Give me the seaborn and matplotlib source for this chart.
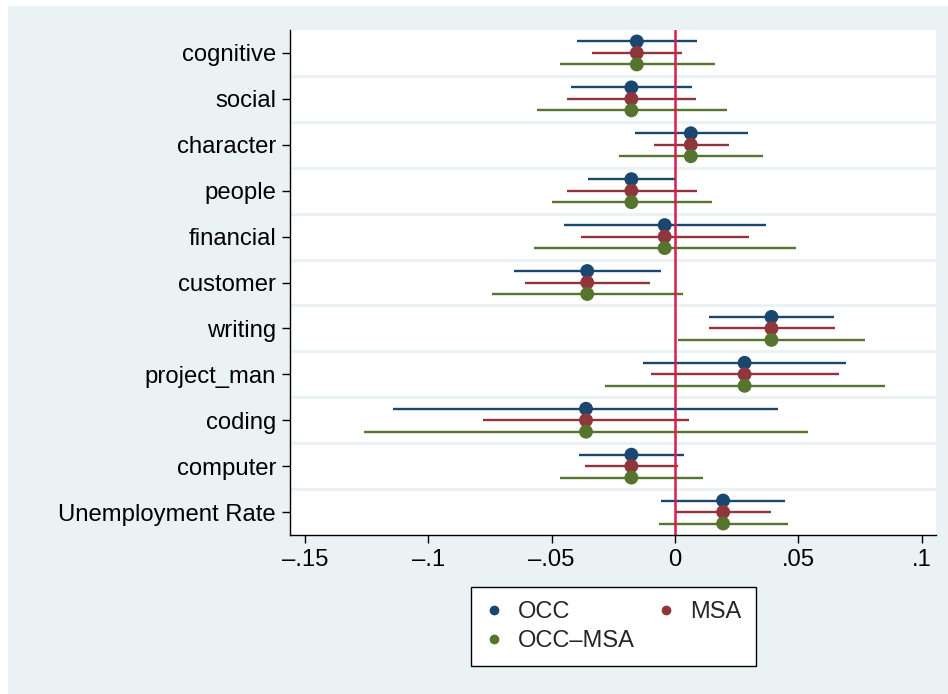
import numpy as np
import pandas as pd
import seaborn as sns
import matplotlib
matplotlib.use("Agg")
import matplotlib.pyplot as plt
from matplotlib.patches import Rectangle
from matplotlib.lines import Line2D

# Coefficients and 95% confidence bounds by skill category
categories = ["cognitive", "social", "character", "people", "financial", "customer",
              "writing", "project_man", "coding", "computer", "Unemployment Rate"]

coef = [-0.0155, -0.0177, 0.0064, -0.0177, -0.0042, -0.0356,
        0.0391, 0.0282, -0.0361, -0.0177, 0.0195]

occ_lo = [-0.0397, -0.0422, -0.0163, -0.0351, -0.0449, -0.0652,
          0.0136, -0.0129, -0.1143, -0.0389, -0.0056]
occ_hi = [0.0088, 0.0069, 0.0294, 0.0001, 0.0367, -0.0058,
          0.0646, 0.0694, 0.0419, 0.0036, 0.0447]

msa_lo = [-0.0337, -0.0436, -0.0087, -0.0439, -0.0380, -0.0607,
          0.0136, -0.0096, -0.0777, -0.0366, 0.0000]
msa_hi = [0.0027, 0.0083, 0.0218, 0.0088, 0.0299, -0.0103,
          0.0647, 0.0663, 0.0057, 0.0013, 0.0391]

occmsa_lo = [-0.0467, -0.0560, -0.0226, -0.0500, -0.0571, -0.0744,
             0.0013, -0.0283, -0.1260, -0.0465, -0.0066]
occmsa_hi = [0.0161, 0.0209, 0.0355, 0.0150, 0.0490, 0.0034,
             0.0769, 0.0850, 0.0540, 0.0114, 0.0457]

series = ["OCC", "MSA", "OCC\u2013MSA"]
colors = {"OCC": "#1a476f", "MSA": "#90353b", "OCC\u2013MSA": "#55752f"}
offsets = {"OCC": -0.25, "MSA": 0.0, "OCC\u2013MSA": 0.25}
bounds = {"OCC": (occ_lo, occ_hi), "MSA": (msa_lo, msa_hi),
          "OCC\u2013MSA": (occmsa_lo, occmsa_hi)}

rows = []
for s in series:
    lo, hi = bounds[s]
    for i, c in enumerate(categories):
        rows.append({"category": c, "series": s, "pos": i + offsets[s],
                     "coef": coef[i], "lo": lo[i], "hi": hi[i]})
df = pd.DataFrame(rows)

sns.set_theme(style="white")
plt.rcParams["font.family"] = ["Liberation Sans", "DejaVu Sans"]

fig = plt.figure(figsize=(9.48, 6.94), dpi=100, facecolor="white")
bg = "#eaf2f3"
fig.patches.append(Rectangle((8 / 948, 0), 1 - 8 / 948, 688 / 694,
                             transform=fig.transFigure, facecolor=bg,
                             edgecolor="none", zorder=-10))

ax = fig.add_axes([290 / 948, 159 / 694, 646 / 948, 505 / 694])
ax.set_facecolor("white")

# separators between categories
for b in np.arange(0.5, len(categories) - 1, 1.0):
    ax.axhline(b, color=bg, lw=2.2, zorder=0.5)

# confidence intervals
for s in series:
    d = df[df["series"] == s]
    ax.hlines(d["pos"], d["lo"], d["hi"], color=colors[s], lw=1.7, zorder=2)

ax.axvline(0, color="#d81e4c", lw=1.8, zorder=2.5)

sns.scatterplot(data=df, x="coef", y="pos", hue="series", palette=colors,
                hue_order=series, s=100, edgecolor="none", legend=False,
                ax=ax, zorder=3)

ax.set_xlim(-0.1561, 0.1058)
ax.set_ylim(len(categories) - 0.5, -0.5)
ax.set_yticks(range(len(categories)), categories)
ax.set_xticks([-0.15, -0.1, -0.05, 0, 0.05, 0.1],
              ["\u2013.15", "\u2013.1", "\u2013.05", "0", ".05", ".1"])
ax.set_xlabel("")
ax.set_ylabel("")
ax.tick_params(axis="both", which="major", direction="out", length=6, width=1,
               color="black", labelsize=17.2, labelcolor="black", pad=4,
               left=True, bottom=True)

for side in ["top", "right"]:
    ax.spines[side].set_visible(False)
for side in ["left", "bottom"]:
    ax.spines[side].set_color("black")
    ax.spines[side].set_linewidth(1.0)

handles = [Line2D([], [], marker="o", ls="none", color=colors[s], markersize=6)
           for s in ["OCC", "OCC\u2013MSA", "MSA"]]
labels = ["OCC", "OCC\u2013MSA", "MSA"]
leg = fig.legend(handles, labels, loc="center", bbox_to_anchor=(613 / 948, 67.5 / 694),
                 ncol=2, fontsize=17, frameon=True, fancybox=False,
                 edgecolor="black", facecolor="white", framealpha=1,
                 handlelength=0.8, handletextpad=0.6, columnspacing=0.95,
                 borderpad=0.6, labelspacing=0.3)
leg.get_frame().set_linewidth(1.0)

fig.savefig("out.png", dpi=100, facecolor="white")
